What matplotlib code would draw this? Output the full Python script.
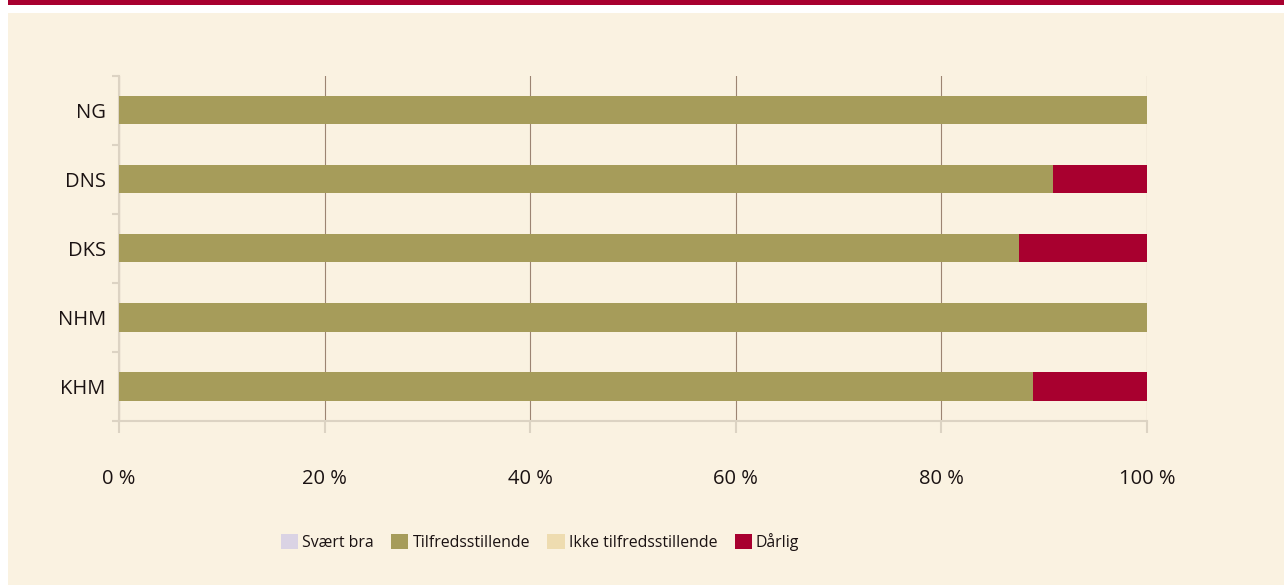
import numpy as np
import matplotlib
matplotlib.use('Agg')
from matplotlib import pyplot as plt
from matplotlib.patches import Rectangle

plt.rcParams['font.family'] = ['Open Sans', 'DejaVu Sans']

# data
categories = ['NG', 'DNS', 'DKS', 'NHM', 'KHM']
series_names = ['Svært bra', 'Tilfredsstillende', 'Ikke tilfredsstillende', 'Dårlig']
svaert_bra = [0, 0, 0, 0, 0]
tilfreds = [100, 90.9, 87.5, 100, 88.9]
ikke_tilfreds = [0, 0, 0, 0, 0]
daarlig = [0, 9.1, 12.5, 0, 11.1]
x_ticks = [0, 20, 40, 60, 80, 100]
x_labels = ['0 %', '20 %', '40 %', '60 %', '80 %', '100 %']

colours = ['#DAD3E4', '#A69C5A', '#EEDCB0', '#A8002F']
panel_bg = '#FAF2E1'
line_col = '#DCD3C3'
grid_col = '#9C8472'
text_col = '#1A1212'

fig = plt.figure(figsize=(12.84, 5.85), dpi=100)
fig.patch.set_facecolor('white')
fig.patches.append(Rectangle((8 / 1284, 0), 1, 1 - 13 / 585, transform=fig.transFigure,
                             facecolor=panel_bg, edgecolor='none', zorder=-2))
fig.patches.append(Rectangle((8 / 1284, 1 - 5 / 585), 1, 5 / 585, transform=fig.transFigure,
                             facecolor='#A8002F', edgecolor='none', zorder=-2))

ax = fig.add_axes([119 / 1284, 1 - 421 / 585, (1147 - 119) / 1284, (421 - 75.5) / 585])
ax.set_facecolor('none')

y = np.arange(len(categories))
left = np.zeros(len(categories))
for name, vals, col in zip(series_names, [svaert_bra, tilfreds, ikke_tilfreds, daarlig], colours):
    ax.barh(y, vals, left=left, height=0.41, color=col, label=name, zorder=3)
    left += np.array(vals)

ax.set_xlim(0, 100)
ax.set_ylim(len(categories) - 0.5, -0.5)

ax.set_xticks(x_ticks)
ax.set_xticklabels(x_labels, fontsize=14.5, color=text_col)
ax.tick_params(axis='x', direction='out', length=8.5, width=1.5, color=line_col, pad=26)
ax.xaxis.grid(True, color=grid_col, linewidth=0.8, zorder=1)

ax.set_yticks(np.arange(-0.5, len(categories)), labels=[''] * (len(categories) + 1))
ax.set_yticks(y, labels=categories, minor=True)
ax.tick_params(axis='y', which='major', direction='out', length=5, width=1.5, color=line_col)
ax.tick_params(axis='y', which='minor', length=0, pad=9.5, labelsize=14.5, labelcolor=text_col)

for side in ['top', 'right']:
    ax.spines[side].set_visible(False)
for side in ['left', 'bottom']:
    ax.spines[side].set_color(line_col)
    ax.spines[side].set_linewidth(1.5)

handles, labels = ax.get_legend_handles_labels()
leg = fig.legend(handles, labels, loc='center', bbox_to_anchor=(540 / 1284, 1 - 542 / 585),
                 ncol=4, frameon=False, fontsize=11.4, handlelength=1.1, handleheight=1.0,
                 handletextpad=0.25, columnspacing=1.1)
for t in leg.get_texts():
    t.set_color(text_col)

fig.savefig('out.png', dpi=100, facecolor=fig.get_facecolor())
